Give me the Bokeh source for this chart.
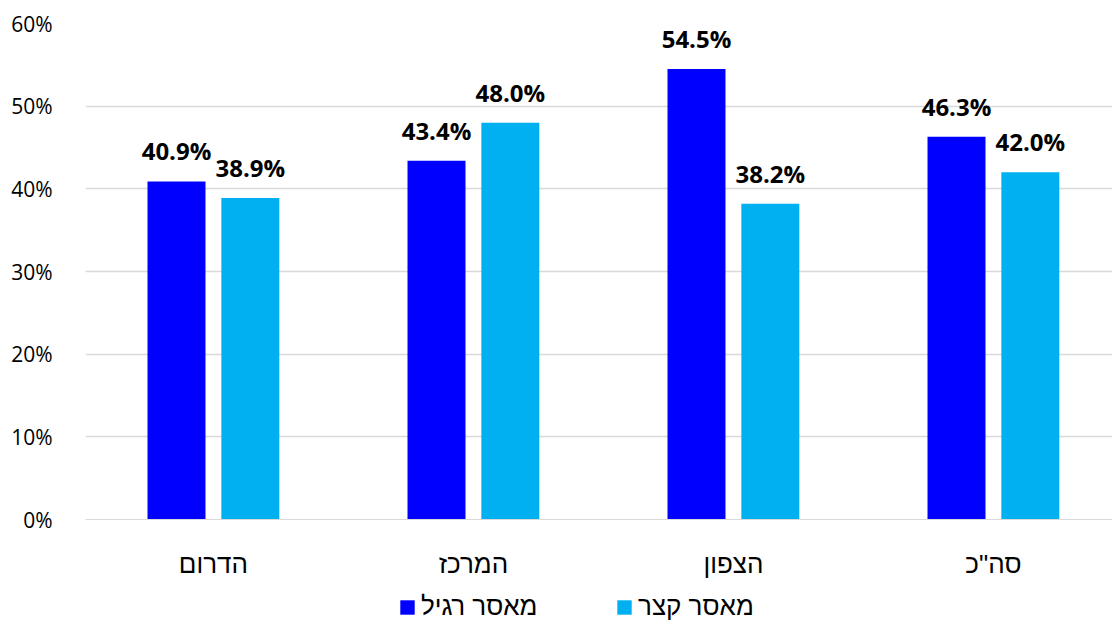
from bokeh.plotting import figure
from bokeh.layouts import column
from bokeh.models import (ColumnDataSource, Range1d, FixedTicker, PrintfTickFormatter, Legend,
                          LegendItem, LabelSet)
from bokeh.core.properties import value
from bokeh.embed import file_html
from bokeh.resources import INLINE

categories = ["הדרום", "המרכז", "הצפון", 'סה"כ']
regular = [40.9, 43.4, 54.5, 46.3]
short = [38.9, 48.0, 38.2, 42.0]
series_names = ["מאסר רגיל", "מאסר קצר"]
y_ticks = [0, 10, 20, 30, 40, 50, 60]

DARK = "#0000FF"
LIGHT = "#00B0F0"

idx = list(range(len(categories)))
centers = [i + 0.5 for i in idx]
off = 0.142
bw = 0.223

src_r = ColumnDataSource(dict(x=[c - off for c in centers], top=regular,
                              lab=[f"{v:.1f}%" for v in regular]))
src_s = ColumnDataSource(dict(x=[c + off for c in centers], top=short,
                              lab=[f"{v:.1f}%" for v in short]))

W = 1112
H1, H2 = 590, 32
LEFT, TOP, BOTTOM_Y = 85, 23, 519
p = figure(width=W, height=H1, output_backend="svg", toolbar_location=None,
           x_range=Range1d(0.008, (W - LEFT) / 260.0 + 0.008), y_range=Range1d(0, 60),
           min_border_left=LEFT, min_border_right=0, min_border_top=TOP,
           min_border_bottom=H1 - BOTTOM_Y)
p.outline_line_color = None
p.background_fill_color = "white"

r1 = p.vbar(x="x", top="top", width=bw, source=src_r, fill_color=DARK, line_color=None)
r2 = p.vbar(x="x", top="top", width=bw, source=src_s, fill_color=LIGHT, line_color=None)

for src in (src_r, src_s):
    p.add_layout(LabelSet(x="x", y="top", text="lab", source=src, text_align="center",
                          text_baseline="bottom", y_offset=14, text_font=value("Open Sans"),
                          text_font_style="bold", text_font_size="24px", text_color="#000000"))

# axes
p.xaxis.ticker = FixedTicker(ticks=centers)
p.xaxis.major_label_overrides = {c: n for c, n in zip(centers, categories)}
p.xaxis.major_label_text_font = "Liberation Sans"
p.xaxis.major_label_text_font_size = "26px"
p.xaxis.major_label_text_color = "#000000"
p.xaxis.major_label_standoff = 23
p.xaxis.axis_line_color = "#d9d9d9"
p.xaxis.major_tick_line_color = None
p.xaxis.minor_tick_line_color = None
p.xgrid.grid_line_color = None

p.yaxis.ticker = FixedTicker(ticks=y_ticks)
p.yaxis.formatter = PrintfTickFormatter(format="%d%%")
p.yaxis.major_label_text_font = "Open Sans"
p.yaxis.major_label_text_font_size = "21px"
p.yaxis.major_label_text_color = "#000000"
p.yaxis.major_label_standoff = 27
p.yaxis.axis_line_color = None
p.yaxis.major_tick_line_color = None
p.yaxis.minor_tick_line_color = None
p.ygrid.grid_line_color = "#d9d9d9"
p.ygrid.grid_line_width = 1.5

# legend strip below the chart (its frame is aligned with the chart's frame)
pl = figure(width=W, height=H2, output_backend="svg", toolbar_location=None,
            x_range=Range1d(0, 1), y_range=Range1d(1000, 1001),
            x_axis_location=None, y_axis_location=None,
            min_border_left=0, min_border_right=0, min_border_top=0, min_border_bottom=0)
pl.outline_line_color = None
pl.xgrid.grid_line_color = None
pl.ygrid.grid_line_color = None
lr1 = pl.vbar(x="x", top="top", width=bw, source=src_r, fill_color=DARK, line_color=None)
lr2 = pl.vbar(x="x", top="top", width=bw, source=src_s, fill_color=LIGHT, line_color=None)

legend = Legend(items=[LegendItem(label=series_names[0], renderers=[lr1]),
                       LegendItem(label=series_names[1], renderers=[lr2])],
                orientation="horizontal", location=(313, 0),
                glyph_width=18, glyph_height=18, label_standoff=5, spacing=74,
                label_width=120,
                label_text_font="Liberation Sans", label_text_font_size="26px",
                label_text_color="#000000", border_line_color=None,
                background_fill_alpha=0, padding=0, margin=0)
pl.add_layout(legend, "center")

layout = column(p, pl, spacing=0)
open("out.html", "w").write(file_html(layout, INLINE))
